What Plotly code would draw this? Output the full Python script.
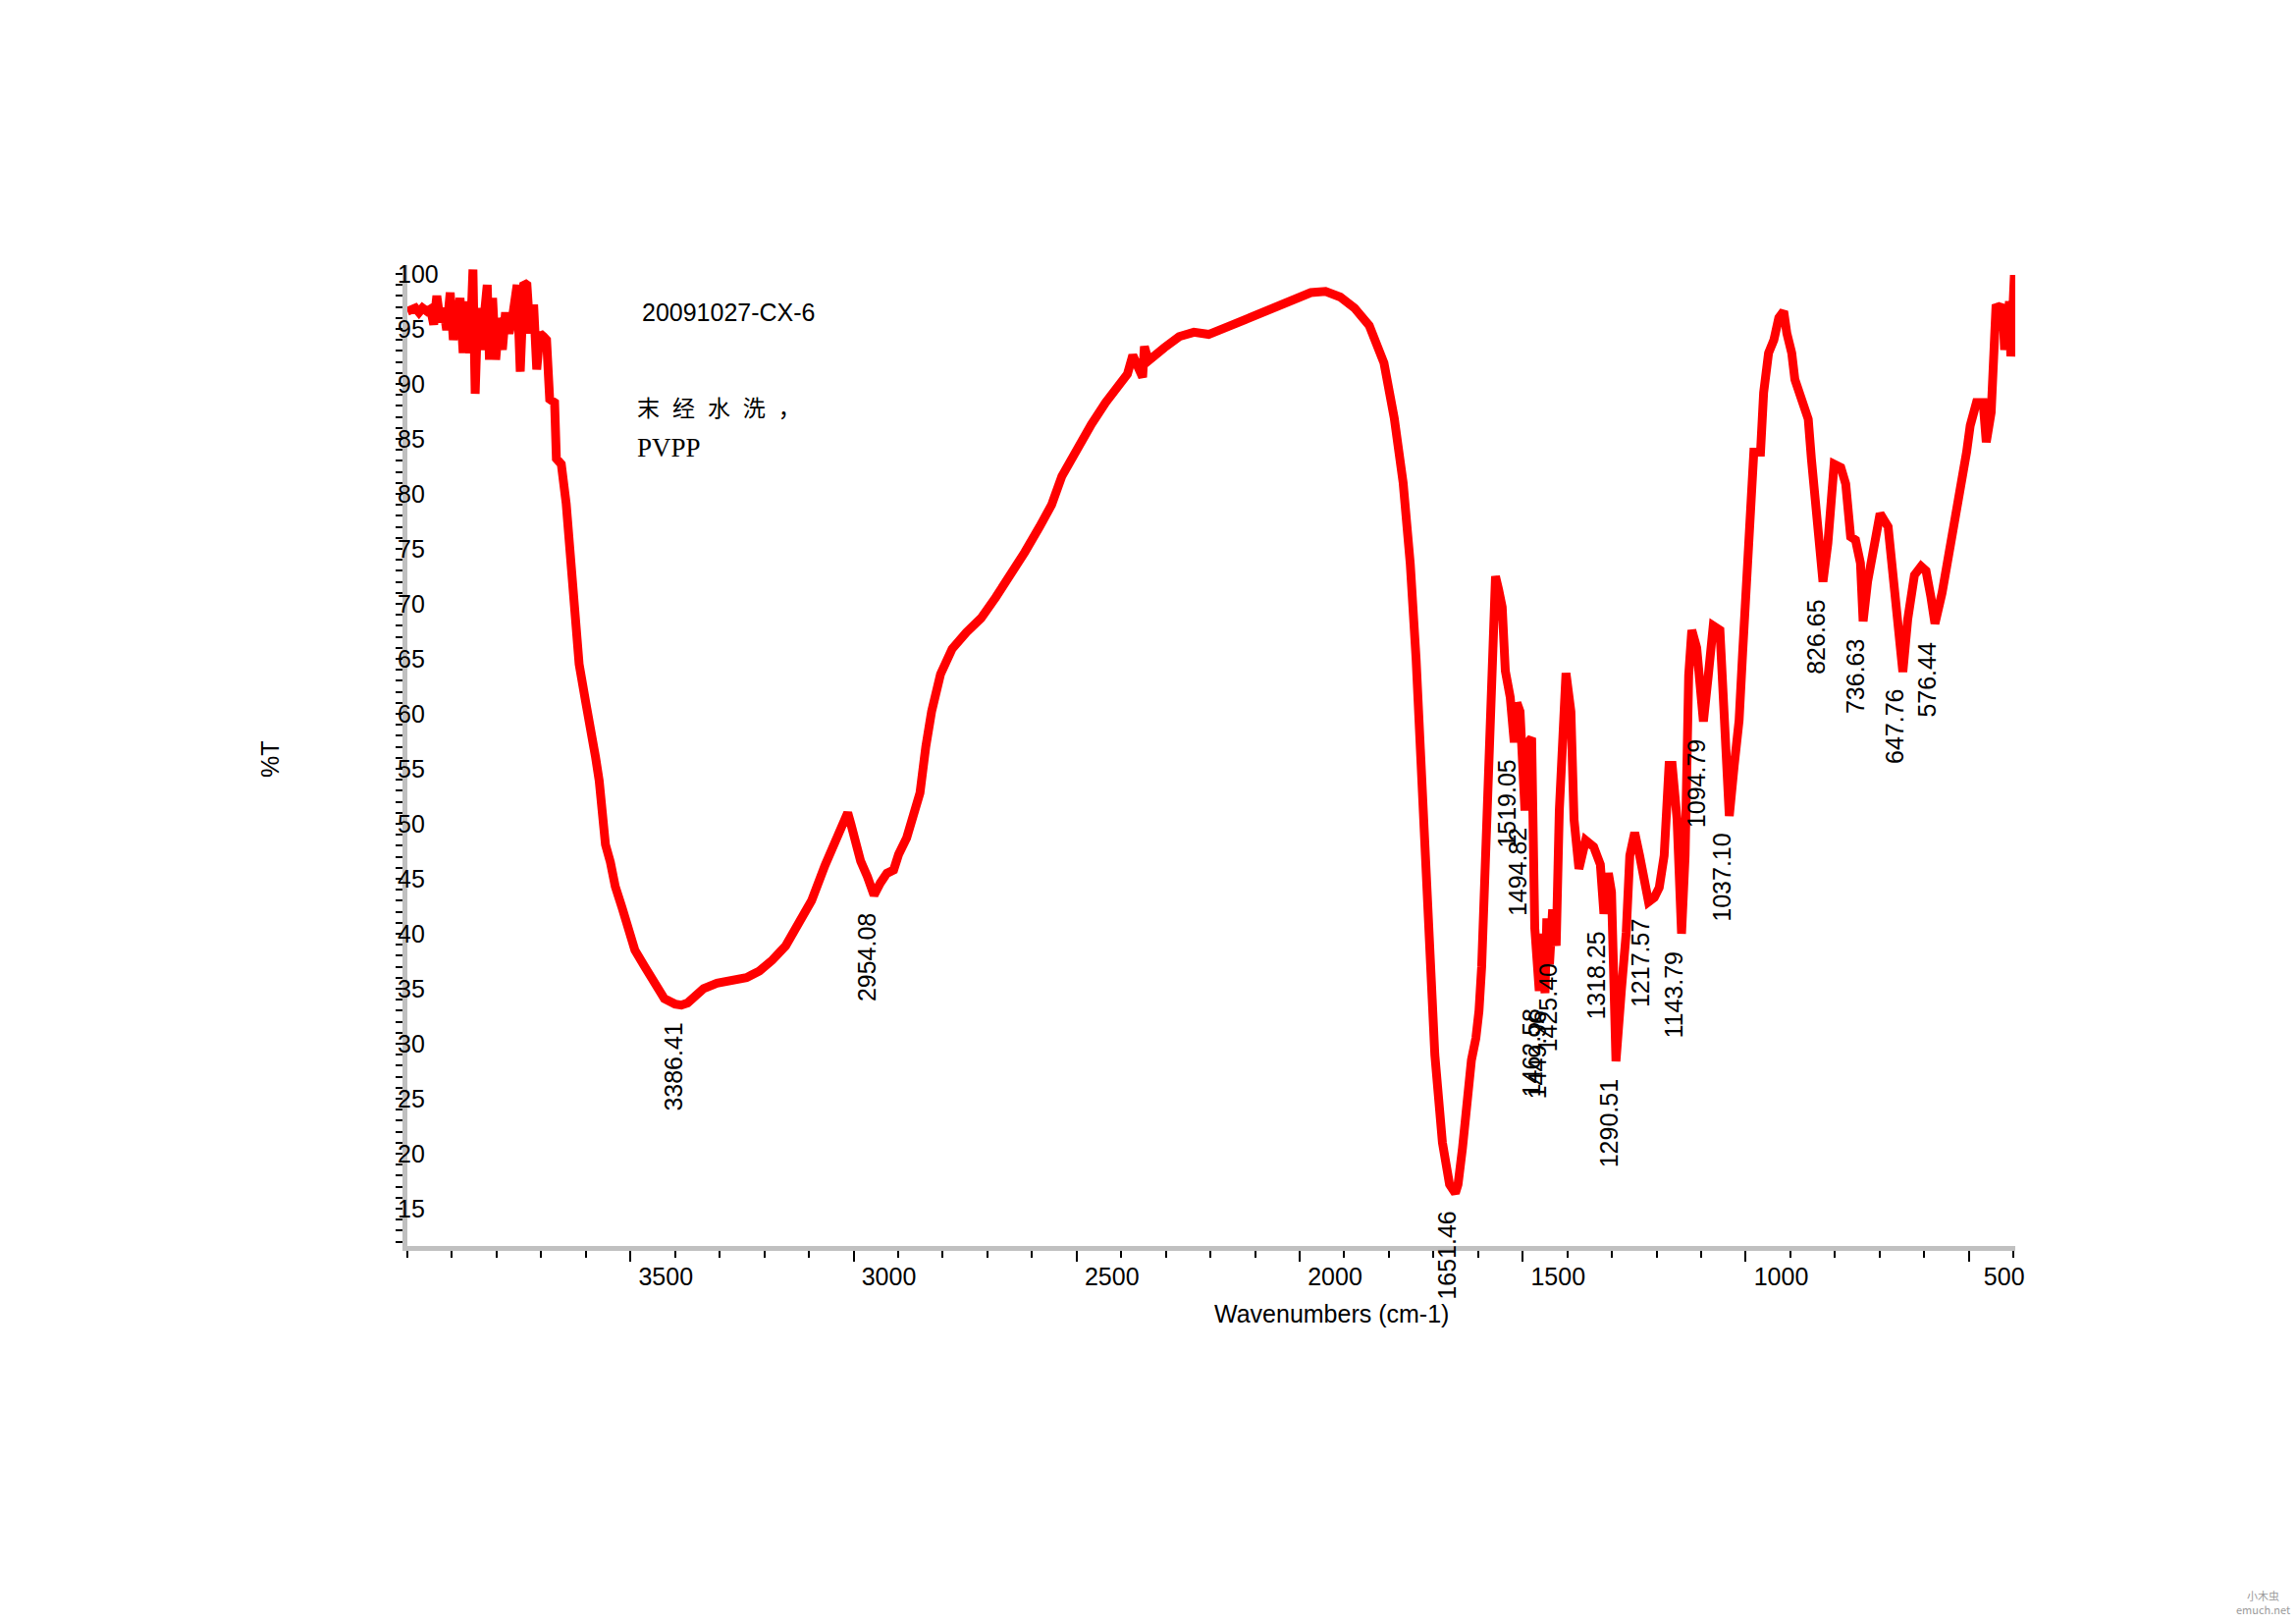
"""FT-IR spektrumu: 20091027-CX-6 (PVPP, 未经水洗)."""

import plotly.graph_objects as go

# spektrum (cm-1, %T) - resimden okunan noktalar
wavenumber = [
    4000, 3992, 3982, 3974, 3966, 3956, 3948, 3941, 3934, 3926,
    3919, 3912, 3904, 3897, 3890, 3882, 3875, 3868, 3860, 3853,
    3848, 3842, 3835, 3827, 3821, 3816, 3809, 3802, 3794, 3787,
    3780, 3772, 3765, 3754, 3747, 3739, 3732, 3725, 3717, 3710,
    3703, 3695, 3688, 3681, 3670, 3666, 3655, 3644, 3637, 3626,
    3615, 3600, 3589, 3578, 3570, 3563, 3556, 3545, 3534, 3519,
    3504, 3490, 3468, 3446, 3424, 3400, 3386, 3372, 3358, 3336,
    3306, 3270, 3240, 3211, 3182, 3152, 3123, 3094, 3064, 3035,
    3020, 3013, 3006, 2984, 2969, 2954, 2940, 2925, 2910, 2899,
    2881, 2866, 2851, 2838, 2825, 2805, 2779, 2747, 2714, 2681,
    2648, 2616, 2583, 2556, 2533, 2500, 2467, 2435, 2402, 2386,
    2374, 2368, 2359, 2352, 2348, 2339, 2303, 2270, 2237, 2204,
    2155, 2089, 2024, 1975, 1942, 1909, 1877, 1844, 1811, 1788,
    1768, 1752, 1739, 1726, 1713, 1697, 1680, 1664, 1651, 1645,
    1635, 1625, 1615, 1605, 1598, 1592, 1587, 1579, 1576, 1568,
    1561, 1554, 1546, 1539, 1528, 1519, 1513, 1506, 1495, 1488,
    1480, 1473, 1463, 1457, 1450, 1446, 1440, 1433, 1425, 1418,
    1411, 1403, 1392, 1385, 1374, 1359, 1341, 1326, 1318, 1308,
    1301, 1291, 1279, 1268, 1260, 1249, 1238, 1224, 1218, 1205,
    1194, 1183, 1172, 1165, 1154, 1144, 1136, 1128, 1121, 1110,
    1095, 1084, 1073, 1058, 1048, 1037, 1026, 1015, 1007, 1000,
    993, 989, 982, 967, 960, 949, 937, 926, 915, 908,
    897, 890, 879, 868, 860, 853, 846, 838, 831, 827,
    816, 809, 802, 787, 776, 765, 754, 743, 737, 727,
    717, 699, 681, 673, 666, 655, 648, 637, 622, 607,
    596, 585, 576, 560, 545, 541, 527, 512, 505, 497,
    483, 468, 461, 450, 446, 439, 431, 424, 420, 415,
    409, 406, 398, 396,
]
transmittance = [
    96.6, 96.8, 96.9, 96.5, 96.9, 96.6, 96.8, 95.4, 98.0, 95.6,
    96.9, 94.9, 98.3, 94.0, 96.6, 97.8, 92.8, 97.5, 92.8, 100.4,
    89.1, 96.9, 93.1, 97.2, 99.0, 92.2, 97.8, 92.2, 96.0, 93.1,
    96.5, 94.6, 95.9, 99.0, 91.1, 99.2, 99.0, 94.6, 97.2, 91.3,
    94.6, 94.3, 94.0, 88.6, 88.3, 83.2, 82.7, 79.1, 74.9, 69.3,
    64.5, 61.0, 58.8, 56.0, 53.9, 50.4, 48.1, 46.5, 44.3, 42.4,
    40.1, 38.5, 37.0, 35.4, 34.1, 33.6, 33.5, 33.7, 34.2, 35.0,
    35.5, 35.7, 36.0, 36.6, 37.6, 38.9, 40.8, 43.0, 46.2, 49.1,
    50.6, 51.0, 50.0, 46.6, 45.2, 43.5, 44.6, 45.5, 45.8, 47.2,
    48.7, 50.5, 52.8, 57.0, 60.2, 63.6, 65.9, 67.4, 68.7, 70.6,
    72.6, 74.7, 77.0, 79.0, 81.6, 84.0, 86.3, 88.3, 90.0, 90.9,
    92.6, 92.0, 91.2, 90.6, 93.4, 92.1, 93.3, 94.3, 94.7, 94.5,
    95.3, 96.4, 97.6, 98.3, 98.4, 97.9, 96.9, 95.3, 91.9, 86.9,
    81.0, 73.6, 65.0, 54.3, 42.3, 29.0, 21.0, 17.2, 16.4, 17.2,
    20.5, 24.5, 28.5, 30.5, 33.0, 37.0, 42.2, 51.2, 58.6, 65.6,
    72.5, 71.3, 69.7, 63.9, 61.5, 57.4, 61.0, 60.2, 51.2, 57.4,
    57.8, 40.5, 34.8, 40.0, 34.6, 41.4, 37.2, 42.2, 38.9, 51.2,
    59.4, 63.7, 60.2, 50.4, 45.9, 48.5, 47.9, 46.3, 41.8, 45.5,
    43.8, 28.4, 34.8, 40.1, 47.1, 49.2, 47.1, 43.4, 42.9, 43.3,
    44.2, 47.1, 55.3, 55.3, 50.4, 40.0, 47.1, 63.5, 67.6, 66.0,
    59.3, 63.5, 68.0, 67.6, 57.4, 50.7, 55.3, 59.4, 65.6, 71.7,
    77.0, 80.9, 83.8, 83.8, 89.2, 92.8, 94.0, 96.0, 96.6, 94.6,
    92.8, 90.4, 88.9, 88.0, 86.8, 83.2, 80.0, 77.0, 74.9, 72.0,
    75.5, 80.9, 82.7, 82.4, 80.9, 76.1, 75.8, 73.7, 68.4, 72.0,
    74.2, 78.2, 77.0, 73.7, 71.0, 66.2, 63.8, 68.6, 72.6, 73.4,
    73.0, 70.6, 68.2, 71.0, 74.2, 76.1, 78.5, 81.5, 83.8, 86.2,
    88.3, 88.3, 84.7, 87.4, 92.8, 97.2, 96.8, 97.2, 93.1, 94.5,
    97.5, 92.5, 99.9, 92.5,
]

# işaretlenen pikler: dalga sayısı ve dip noktasının %T değeri
peak_wavenumber = [
    3386.41, 2954.08, 1651.46, 1519.05, 1494.82, 1462.58, 1449.96,
    1425.40, 1318.25, 1290.51, 1217.57, 1143.79, 1094.79, 1037.10,
    826.65, 736.63, 647.76, 576.44,
]
peak_transmittance = [
    33.5, 43.5, 16.4, 57.4, 51.2, 34.8, 34.6,
    38.9, 41.8, 28.4, 42.9, 40.0, 59.3, 50.7,
    72.0, 68.4, 63.8, 68.2,
]

x_major_ticks = [3500, 3000, 2500, 2000, 1500, 1000, 500]
y_major_ticks = [15, 20, 25, 30, 35, 40, 45, 50, 55, 60, 65, 70, 75, 80, 85, 90, 95, 100]

FONT = "Liberation Sans, Arial, sans-serif"
AXIS_GRAY = "#c0c0c0"


def paper_text(x, y, text, font, **extra):
    """Kağıt koordinatlarında ok'suz metin notu üretir."""
    item = {
        "x": x,
        "y": y,
        "xref": "paper",
        "yref": "paper",
        "text": text,
        "showarrow": False,
        "font": font,
    }
    item.update(extra)
    return item


fig = go.Figure()
fig.add_trace(
    go.Scatter(
        x=wavenumber,
        y=transmittance,
        mode="lines",
        line={"color": "#ff0000", "width": 9},
        showlegend=False,
    )
)

label_font = {"family": FONT, "size": 25, "color": "black"}
annotations = []

# pik etiketleri, dip noktasının hemen altında dikey yazılır
for wn, t in zip(peak_wavenumber, peak_transmittance):
    annotations.append(
        {
            "x": wn,
            "y": t,
            "xref": "x",
            "yref": "y",
            "text": f"{wn:.2f}",
            "textangle": -90,
            "showarrow": False,
            "xanchor": "center",
            "yanchor": "top",
            "xshift": -8,
            "yshift": -16,
            "font": label_font,
        }
    )

# y ekseni etiketleri eksen çizgisinin üstüne biner
for value in y_major_ticks:
    annotations.append(
        {
            "x": 0,
            "y": value,
            "xref": "paper",
            "yref": "y",
            "text": str(value),
            "showarrow": False,
            "xanchor": "left",
            "yanchor": "middle",
            "xshift": -12,
            "font": label_font,
        }
    )

annotations += [
    paper_text(0.1447, 0.952, "20091027-CX-6", label_font, xanchor="left", yanchor="middle"),
    paper_text(
        0.1417, 0.856, "末\u2002\u200a经\u2002\u200a水\u2002\u200a洗\u2002\u200a，",
        {"family": "Noto Sans CJK SC", "size": 23, "color": "black"},
        xanchor="left", yanchor="middle",
    ),
    paper_text(
        0.1417, 0.814, "PVPP",
        {"family": "Liberation Serif, Times New Roman, serif", "size": 27, "color": "black"},
        xanchor="left", yanchor="middle",
    ),
    paper_text(-0.0855, 0.4965, "%T", label_font, textangle=-90, xanchor="center", yanchor="middle"),
    paper_text(0.5745, -0.069, "Wavenumbers (cm-1)", label_font, xanchor="center", yanchor="middle"),
    paper_text(
        1.154, -0.363, "小木虫<br>emuch.net",
        {"family": "Noto Sans CJK SC", "size": 11, "color": "#9a9a9a"},
        xanchor="center", yanchor="middle",
    ),
]

fig.update_layout(
    width=2339,
    height=1654,
    margin={"l": 415, "r": 286, "t": 270, "b": 385},
    paper_bgcolor="white",
    plot_bgcolor="white",
    annotations=annotations,
    font={"family": FONT, "size": 25, "color": "black"},
)
fig.update_xaxes(
    range=[4000, 396],
    tickvals=x_major_ticks,
    ticks="outside",
    ticklen=11,
    tickwidth=2,
    tickcolor="black",
    ticklabelshift=-36,
    ticklabelstandoff=-6,
    tickfont=label_font,
    minor={"dtick": 100, "tick0": 0, "ticks": "outside", "ticklen": 7, "tickwidth": 2, "tickcolor": "black"},
    showline=True,
    linecolor=AXIS_GRAY,
    linewidth=5,
    showgrid=False,
    zeroline=False,
)
fig.update_yaxes(
    range=[11.6, 100.8],
    tickvals=y_major_ticks,
    ticks="outside",
    ticklen=7,
    tickwidth=2,
    tickcolor="black",
    showticklabels=False,
    minor={"dtick": 1, "tick0": 0, "ticks": "outside", "ticklen": 7, "tickwidth": 2, "tickcolor": "black"},
    showline=True,
    linecolor=AXIS_GRAY,
    linewidth=5,
    showgrid=False,
    zeroline=False,
)

fig.write_html(
    "out.html",
    config={"displayModeBar": False},
    post_script="document.body.style.margin='0';",
)
